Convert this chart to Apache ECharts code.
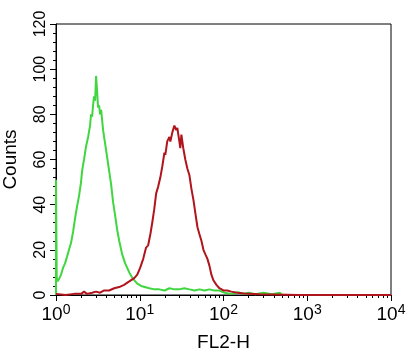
<!DOCTYPE html>
<html>
<head>
<meta charset="utf-8">
<script src="https://cdn.jsdelivr.net/npm/echarts@6/dist/echarts.min.js"></script>
<style>
  html, body { margin: 0; padding: 0; background: #fff; }
  #chart { width: 414px; height: 352px; }
</style>
</head>
<body>
<div id="chart"></div>
<script>
// FL2-H channel values (linear units) and counts
const greenFl2 = [1.0, 1.0, 1.02, 1.04, 1.086, 1.148, 1.213, 1.282, 1.355, 1.43, 1.51, 1.6, 1.69, 1.78, 1.886,
  1.99, 2.05, 2.16, 2.29, 2.42, 2.55, 2.62, 2.7, 2.77, 2.85, 2.93, 3.01, 3.1, 3.18, 3.27, 3.36, 3.46,
  3.65, 3.86, 4.08, 4.31, 4.55, 4.81, 5.09, 5.37, 5.68, 6.17, 6.7, 7.49, 8.36, 9.34, 10.4, 13.0,
  15.0, 17.1, 19.8, 22.6, 26.0, 29.7, 34.0, 39.2, 45.0, 51.5, 59.0, 67.9, 78.0, 89.4, 103, 124,
  150, 170, 200, 240, 300, 380, 470, 500];
const greenCounts = [0, 51, 8, 6, 7, 9, 12, 14, 17, 20, 23, 28, 34, 39, 44,
  50, 55, 60, 66, 70, 75, 80, 79, 84, 88, 86, 97, 90, 83, 84, 80, 82,
  73, 67, 61, 55, 49, 41, 35, 29, 24, 18, 14, 10, 7, 5, 4, 3,
  2.5, 2.5, 2, 3, 2.5, 2.5, 3, 2.5, 2, 2.5, 2, 2.5, 2, 2, 1, 0.5,
  1.2, 0.5, 1, 0.3, 1, 0.3, 1, 0];

const redFl2 = [1.0, 1.3, 1.64, 2.0, 2.16, 2.35, 2.7, 3.0, 3.36, 3.76, 4.31, 4.95, 5.68, 6.5, 7.49, 8.6,
  9.34, 10.1, 11.0, 11.9, 12.6, 13.4, 14.1, 14.9, 15.7, 16.6, 17.6, 18.6, 19.7, 20.2, 21.3, 22.6,
  23.2, 24.5, 25.9, 27.3, 28.1, 29.7, 30.5, 31.4, 33.1, 35.0, 37.0, 39.2, 41.4, 43.8, 46.2, 48.9,
  51.5, 54.5, 57.6, 60.8, 64.3, 67.9, 71.7, 75.8, 82.3, 89.4, 99.8, 111, 124, 147, 178, 270,
  810, 10000];
const redCounts = [0.5, 0, 0.5, 0.5, 1.5, 0.5, 1, 1.5, 1, 2, 2, 3, 3.5, 4.5, 6, 7.5,
  9, 12, 16, 21, 22, 27, 32, 38, 45, 48, 52, 57, 63, 62, 68, 70,
  68, 72, 75, 73, 74, 68, 65, 71, 65, 60, 56, 53, 47, 42, 36, 30,
  27, 24, 20, 18, 16, 13, 9, 6.5, 4.5, 3, 2, 2, 1.5, 1, 0.7, 0.3,
  0, 0];

const xDecades = [0, 1, 2, 3, 4];
const xMinorTicks = [];
xDecades.slice(0, -1).forEach(d => {
  for (let k = 2; k <= 9; k++) xMinorTicks.push(Math.log10(k * Math.pow(10, d)));
});

const toPoints = (xs, ys) => xs.map((v, i) => [Math.log10(v), ys[i]]);

const chart = echarts.init(document.getElementById('chart'), null, { renderer: 'canvas' });

const font = 'Liberation Sans';

chart.setOption({
  animation: false,
  backgroundColor: '#fff',
  grid: {
    left: 56, right: 23, top: 24, bottom: 57,
    outerBoundsMode: 'none',
    containLabel: false,
    show: true, borderColor: '#000', borderWidth: 1, backgroundColor: '#fff'
  },
  xAxis: [{
    type: 'value',
    min: 0, max: 4, interval: 1,
    name: 'FL2-H',
    nameLocation: 'middle',
    nameGap: 38,
    nameTextStyle: { color: '#000', fontFamily: font, fontSize: 19 },
    axisLine: { lineStyle: { color: '#000', width: 1 } },
    axisTick: { show: true, length: 6, lineStyle: { color: '#000' } },
    splitLine: { show: false },
    axisLabel: {
      margin: 8,
      formatter: v => '{a|10}{b|' + v + '}',
      rich: {
        a: { fontFamily: font, fontSize: 19, color: '#000' },
        b: { fontFamily: font, fontSize: 14, color: '#000', verticalAlign: 'top', padding: [0, 0, 10, 0] }
      }
    }
  }, {
    type: 'value',
    min: 0, max: 4,
    position: 'bottom',
    axisLine: { show: false },
    axisLabel: { show: false },
    splitLine: { show: false },
    axisTick: { show: true, length: 3, customValues: xMinorTicks, lineStyle: { color: '#000' } }
  }],
  yAxis: {
    type: 'value',
    min: 0, max: 120, interval: 20,
    name: 'Counts',
    nameLocation: 'middle',
    nameRotate: 90,
    nameGap: 36,
    nameTextStyle: { color: '#000', fontFamily: font, fontSize: 19 },
    axisLine: { show: true, lineStyle: { color: '#000', width: 1 } },
    axisTick: { show: true, length: 6, lineStyle: { color: '#000' } },
    minorTick: { show: true, splitNumber: 5, length: 3, lineStyle: { color: '#000' } },
    splitLine: { show: false },
    axisLabel: {
      rotate: 90,
      margin: 7,
      color: '#000',
      fontFamily: font,
      fontSize: 16
    }
  },
  series: [{
    type: 'line',
    data: toPoints(greenFl2, greenCounts),
    showSymbol: false,
    lineStyle: { color: '#40d640', width: 2 },
    z: 2
  }, {
    type: 'line',
    data: toPoints(redFl2, redCounts),
    showSymbol: false,
    lineStyle: { color: '#b0141c', width: 2 },
    z: 3
  }]
});

window.addEventListener('resize', () => chart.resize());
</script>
</body>
</html>
